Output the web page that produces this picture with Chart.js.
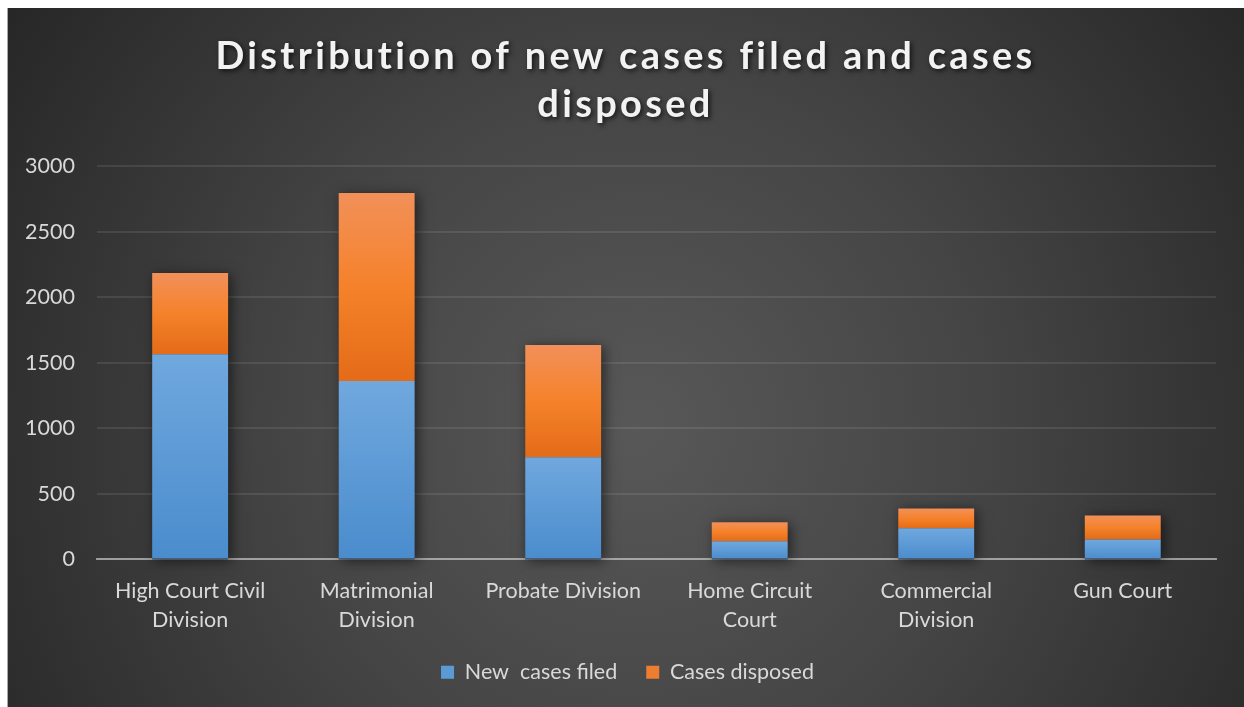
<!DOCTYPE html>
<html lang="en">
<head>
    <meta charset="UTF-8">
    <title>Cases filed and disposed</title>
    <script src="https://cdn.jsdelivr.net/npm/chart.js@4.4.1/dist/chart.umd.min.js"></script>
    <style>
        body { margin: 0; background: #fff; }
        #wrap { position: absolute; left: 7px; top: 8px; width: 1237px; height: 699px; }
    </style>
</head>
<body>
    <div id="wrap">
        <canvas id="casesChart"></canvas>
    </div>
    <script>
        var courts = [
            ['High Court Civil', 'Division'],
            ['Matrimonial', 'Division'],
            'Probate Division',
            ['Home Circuit', 'Court'],
            ['Commercial', 'Division'],
            'Gun Court'
        ];
        var newCases = [1565, 1360, 780, 138, 237, 153];
        var disposedCases = [620, 1435, 855, 145, 152, 183];
        var yTicks = [0, 500, 1000, 1500, 2000, 2500, 3000];

        var titleLines = ['Distribution of new cases filed and cases', 'disposed'];
        var fontName = 'Lato, "Open Sans", sans-serif';
        var textColor = '#d9d9d9';

        var blueStops = ['#70a8de', '#4a8ccd'];
        var orangeStops = ['#f2905a', '#f5822a', '#e46b18'];

        // gradient spanning one stacked segment, from its top edge to its bottom edge
        function segmentFill(stops, solid, lower) {
            return function (ctx) {
                var chart = ctx.chart;
                if (ctx.type !== 'data' || !chart.chartArea) return solid;
                var y = chart.scales.y;
                var i = ctx.dataIndex;
                var from = lower ? lower[i] : 0;
                var to = from + ctx.raw;
                var top = y.getPixelForValue(to);
                var bottom = y.getPixelForValue(from);
                if (!isFinite(top) || bottom - top < 1) return solid;
                var g = chart.ctx.createLinearGradient(0, top, 0, bottom);
                for (var s = 0; s < stops.length; s++) {
                    g.addColorStop(s / (stops.length - 1), stops[s]);
                }
                return g;
            };
        }

        var backdrop = {
            id: 'backdrop',
            beforeDraw: function (chart) {
                var c = chart.ctx, w = chart.width, h = chart.height;
                c.save();
                var g = c.createRadialGradient(w * 0.51, h * 0.6, 0, w * 0.51, h * 0.6, w * 0.62);
                g.addColorStop(0, '#585858');
                g.addColorStop(0.45, '#454545');
                g.addColorStop(1, '#262626');
                c.fillStyle = g;
                c.fillRect(0, 0, w, h);
                c.fillStyle = '#a8a8a8';
                c.fillRect(0, 0, 1, h);
                c.restore();
            },
            // nudge the legend row a bit to the right
            afterLayout: function (chart) {
                if (chart.legend) {
                    chart.legend.left += 18;
                    chart.legend.right += 18;
                }
            }
        };

        // soft shadow behind every full stack
        var stackShadow = {
            id: 'stackShadow',
            beforeDatasetsDraw: function (chart) {
                var c = chart.ctx, y = chart.scales.y;
                var bars = chart.getDatasetMeta(0).data;
                c.save();
                c.shadowColor = 'rgba(0,0,0,0.55)';
                c.shadowBlur = 12;
                c.shadowOffsetX = 3;
                c.shadowOffsetY = 2;
                c.fillStyle = '#333';
                for (var i = 0; i < bars.length; i++) {
                    var top = y.getPixelForValue(newCases[i] + disposedCases[i]);
                    var bottom = y.getPixelForValue(0);
                    c.fillRect(bars[i].x - bars[i].width / 2, top, bars[i].width, bottom - top);
                }
                c.restore();
            }
        };

        var spacedTitle = {
            id: 'spacedTitle',
            afterDraw: function (chart) {
                var c = chart.ctx;
                c.save();
                c.font = 'bold 38px ' + fontName;
                c.letterSpacing = '3.3px';
                c.textAlign = 'center';
                c.textBaseline = 'middle';
                c.fillStyle = '#f2f2f2';
                c.shadowColor = 'rgba(0,0,0,0.7)';
                c.shadowBlur = 5;
                c.shadowOffsetX = 2;
                c.shadowOffsetY = 2;
                for (var i = 0; i < titleLines.length; i++) {
                    c.fillText(titleLines[i], chart.width / 2, 49 + i * 48);
                }
                c.restore();
            }
        };

        new Chart(document.getElementById('casesChart'), {
            type: 'bar',
            data: {
                labels: courts,
                datasets: [{
                    label: 'New  cases filed',
                    data: newCases,
                    backgroundColor: segmentFill(blueStops, '#5b9bd5', null),
                    borderWidth: 0
                }, {
                    label: 'Cases disposed',
                    data: disposedCases,
                    backgroundColor: segmentFill(orangeStops, '#ed7d31', newCases),
                    borderWidth: 0
                }]
            },
            options: {
                responsive: true,
                maintainAspectRatio: false,
                animation: false,
                layout: { padding: { top: 158, right: 28, left: -4, bottom: 14 } },
                datasets: { bar: { barPercentage: 0.407, categoryPercentage: 1 } },
                scales: {
                    x: {
                        stacked: true,
                        z: 1,
                        grid: { display: false },
                        border: { color: 'rgba(205,205,205,0.65)', width: 2 },
                        afterFit: function (axis) {
                            axis.paddingLeft = 0;
                            axis.paddingRight = 0;
                        },
                        ticks: {
                            color: textColor,
                            padding: 9,
                            maxRotation: 0,
                            font: { family: fontName, size: 21.5, lineHeight: 1.35 }
                        }
                    },
                    y: {
                        stacked: true,
                        min: yTicks[0],
                        max: yTicks[yTicks.length - 1],
                        afterBuildTicks: function (axis) {
                            axis.ticks = yTicks.map(function (v) { return { value: v }; });
                        },
                        grid: { color: 'rgba(255,255,255,0.09)', lineWidth: 2, drawTicks: false },
                        border: { display: false },
                        ticks: {
                            color: textColor,
                            padding: 22,
                            font: { family: fontName, size: 21.5 },
                            callback: function (v) { return String(v); }
                        }
                    }
                },
                plugins: {
                    title: { display: false },
                    tooltip: { enabled: false },
                    legend: {
                        position: 'bottom',
                        labels: {
                            color: textColor,
                            boxWidth: 13,
                            boxHeight: 13,
                            padding: 18,
                            font: { family: fontName, size: 21.5 },
                            generateLabels: function (chart) {
                                var items = Chart.defaults.plugins.legend.labels.generateLabels(chart);
                                var solids = ['#5b9bd5', '#ed7d31'];
                                items.forEach(function (it, k) {
                                    it.fillStyle = solids[k];
                                    it.strokeStyle = solids[k];
                                    it.lineWidth = 0;
                                });
                                // a little extra room between the two entries
                                items[0].text += '  ';
                                return items;
                            }
                        }
                    }
                }
            },
            plugins: [backdrop, stackShadow, spacedTitle]
        });
    </script>
</body>
</html>
